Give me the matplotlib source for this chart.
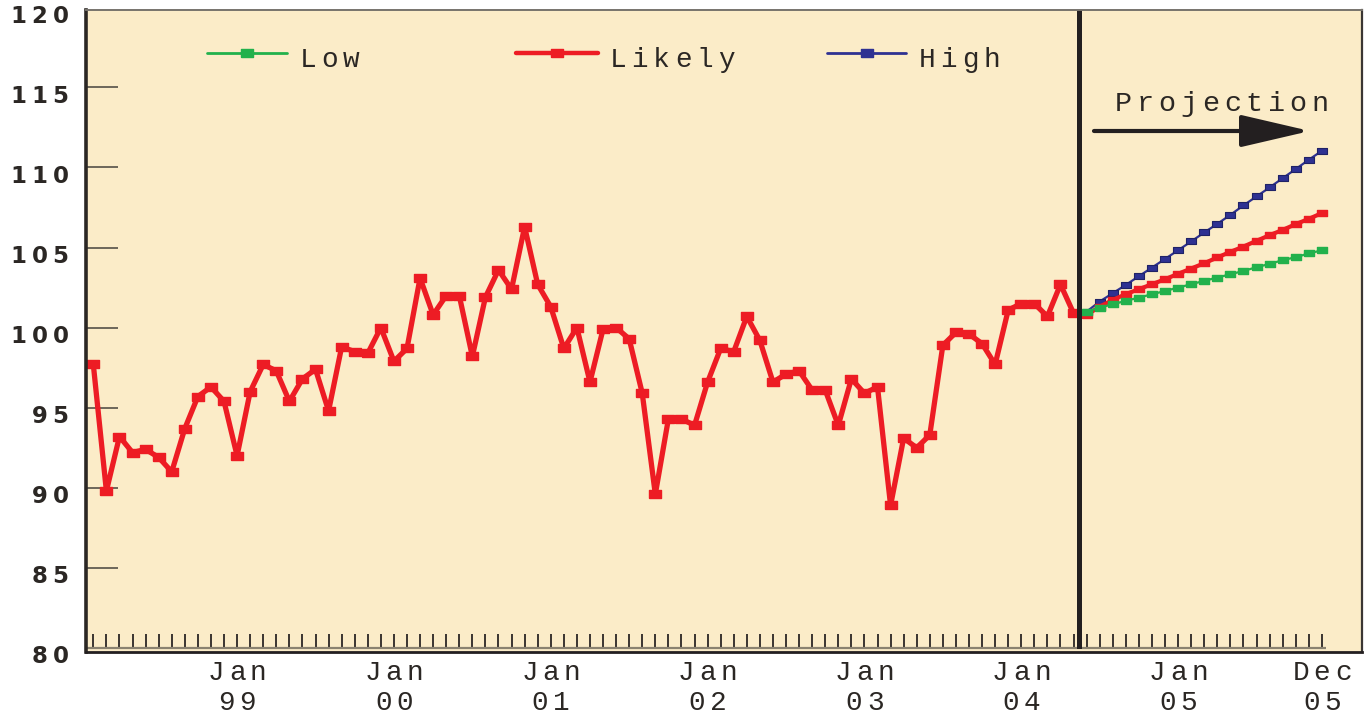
import matplotlib
matplotlib.use("Agg")
from matplotlib import pyplot as plt
from matplotlib.lines import Line2D

# monthly index: 0 = Feb 98 ... 94 = Dec 05
likely_hist = [97.7, 89.8, 93.2, 92.2, 92.4, 91.9, 91.0, 93.7, 95.7, 96.3, 95.4, 92.0,
               96.0, 97.7, 97.3, 95.4, 96.8, 97.4, 94.8, 98.8, 98.5, 98.4, 100.0, 97.9,
               98.7, 103.1, 100.8, 102.0, 102.0, 98.2, 101.9, 103.6, 102.4, 106.3, 102.7, 101.3,
               98.7, 100.0, 96.6, 99.9, 100.0, 99.3, 95.9, 89.6, 94.3, 94.3, 93.9, 96.6,
               98.7, 98.5, 100.7, 99.2, 96.6, 97.1, 97.3, 96.1, 96.1, 93.9, 96.8, 95.9,
               96.3, 88.9, 93.1, 92.5, 93.3, 98.9, 99.7, 99.6, 99.0, 97.7, 101.1, 101.5,
               101.5, 100.7, 102.7, 100.9]
low = [101.0, 101.25, 101.46, 101.67, 101.88, 102.08, 102.29, 102.5, 102.71, 102.92,
       103.13, 103.33, 103.54, 103.77, 103.98, 104.21, 104.4, 104.63, 104.83]
likely_proj = [100.79, 101.31, 101.73, 102.09, 102.4, 102.71, 103.02, 103.36, 103.69, 104.02,
               104.38, 104.73, 105.06, 105.42, 105.77, 106.1, 106.46, 106.79, 107.15]
high = [101.0, 101.63, 102.15, 102.67, 103.21, 103.75, 104.29, 104.83, 105.38, 105.94,
        106.48, 107.04, 107.63, 108.19, 108.75, 109.33, 109.9, 110.48, 111.04]

x_labels = [(11, "Jan", "99"), (23, "Jan", "00"), (35, "Jan", "01"), (47, "Jan", "02"),
            (59, "Jan", "03"), (71, "Jan", "04"), (83, "Jan", "05"), (94, "Dec", "05")]
y_labels = [80, 85, 90, 95, 100, 105, 110, 115, 120]
split = 75.4

hist_x = list(range(len(likely_hist)))
proj_x = list(range(len(likely_hist), len(likely_hist) + len(low)))
all_x = list(range(len(likely_hist) + len(low)))

RED = "#ED1C24"
BLUE = "#2E3192"
GREEN = "#22B14C"
INK = "#231F20"
TXT = "#2B2724"
MONO = "Liberation Mono"
rect = [(-1, -0.65), (1, -0.65), (1, 0.65), (-1, 0.65), (-1, -0.65)]

W, H = 1366, 715
fig = plt.figure(figsize=(W / 100, H / 100), dpi=100)
ax = fig.add_axes([86 / W, 1 - 652 / H, (1362 - 86) / W, (652 - 10) / H])
ax.set_facecolor("#FBECC8")
ax.set_xlim(-0.56, 97.07)
ax.set_ylim(79.75, 119.83)


def spaced(x, y, s, pitch, ha="center", **kw):
    # x, y in pixels from top-left, y is the baseline
    n = len(s)
    if ha == "center":
        x0 = x - pitch * n / 2
    elif ha == "right":
        x0 = x - pitch * n
    else:
        x0 = x
    for i, ch in enumerate(s):
        fig.text((x0 + pitch * (i + 0.5)) / W, 1 - y / H, ch, ha="center", va="baseline", **kw)


# history + projections
ax.plot(proj_x, high, color=BLUE, lw=1.6, marker=rect, ms=7.5, mfc=BLUE, mec="#1F2266", mew=0.8, zorder=3)
ax.plot([hist_x[-1]] + proj_x, [likely_hist[-1]] + likely_proj, color=RED, lw=3,
        marker=rect, ms=7.5, markevery=list(range(1, len(proj_x) + 1)), zorder=4)
ax.plot(proj_x, low, color=GREEN, lw=1.6, marker=rect, ms=7.5, zorder=5)
ax.plot(hist_x, likely_hist, color=RED, lw=3.8, marker=rect, ms=8.5, zorder=4,
        solid_joinstyle="round")

# divider
ylo, yhi = ax.get_ylim()
ax.axvline(split, ymin=(80.15 - ylo) / (yhi - ylo), ymax=1, color=INK, lw=3.6, zorder=6)

# bottom month ticks
ax.vlines(all_x, 80, 80.875, color="#3A3530", lw=1.4, zorder=2)
ax.hlines(80, ax.get_xlim()[0], all_x[-1] + 0.3, color="#8A8270", lw=1.6, zorder=2)

# axes styling
ax.set_yticks(y_labels[1:-1])
ax.set_yticklabels([])
ax.set_xticks([])
ax.tick_params(axis="y", direction="in", length=23, width=1.2, color="#555048")
for side in ["left", "right", "top", "bottom"]:
    ax.spines[side].set_zorder(7)
ax.spines["left"].set_linewidth(2.6)
ax.spines["left"].set_color("#2B2724")
ax.spines["top"].set_linewidth(1.4)
ax.spines["top"].set_color("#77736C")
ax.spines["right"].set_linewidth(1.6)
ax.spines["right"].set_color("#3A3633")
ax.spines["bottom"].set_linewidth(2)
ax.spines["bottom"].set_color(INK)

# y labels
for v in y_labels:
    py = H - ax.transData.transform((0, v))[1] + 15.5
    spaced(71, py, str(v), 21, ha="right", family="DejaVu Sans", weight="bold",
           fontsize=16.5, color=TXT)

# x labels
for idx, mon, yr in x_labels:
    px = ax.transData.transform((idx, 80))[0]
    spaced(px, 680, mon, 21.3, family=MONO, fontsize=20, color=TXT)
    spaced(px, 710, yr, 21.3, family=MONO, fontsize=20, color=TXT)

# legend
for x0, x1, tx, name, col, lw in [(207, 287, 297, "Low", GREEN, 2),
                                  (516, 598, 607, "Likely", RED, 3.2),
                                  (827, 906, 916, "High", BLUE, 2)]:
    fig.add_artist(Line2D([x0 / W, x1 / W], [1 - 52.7 / H] * 2, color=col, lw=lw,
                          solid_capstyle="round", transform=fig.transFigure))
    fig.add_artist(Line2D([(x0 + x1) / 2 / W], [1 - 52.7 / H], color=col, marker=rect,
                          ms=8, lw=0, transform=fig.transFigure))
    spaced(tx, 66.7, name, 21.8, ha="left", family=MONO, fontsize=20, color=TXT)

# projection arrow
spaced(1112.7, 111, "Projection", 21.8, ha="left", family=MONO, fontsize=20.5, color=TXT)
ax.annotate("", xy=(1310, H - 131), xytext=(1094, H - 131),
            xycoords="figure pixels", textcoords="figure pixels",
            arrowprops=dict(arrowstyle="-|>,head_length=4.3,head_width=1.0",
                            lw=3, color=INK, mutation_scale=10, shrinkA=0, shrinkB=0))

fig.savefig("out.png", dpi=100)
